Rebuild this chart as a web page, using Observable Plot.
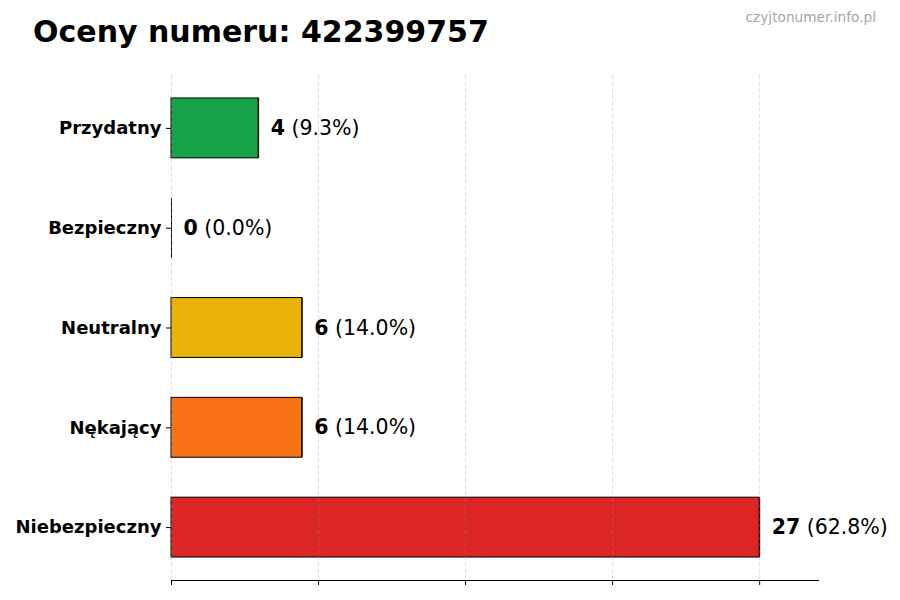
<!DOCTYPE html>
<html>
<head>
<meta charset="utf-8">
<script src="https://cdn.jsdelivr.net/npm/d3@7"></script>
<script src="https://cdn.jsdelivr.net/npm/@observablehq/plot@0.6"></script>
<style>
  html, body { margin: 0; padding: 0; background: white; }
  #chart { width: 900px; height: 600px; }
  text { white-space: pre; }
</style>
</head>
<body>
<div id="chart"></div>
<script>
const titleText = "Oceny numeru: 422399757";
const watermark = "czyjtonumer.info.pl";
const categories = ["Przydatny", "Bezpieczny", "Neutralny", "Nękający", "Niebezpieczny"];
const counts = [4, 0, 6, 6, 27];
const percents = ["9.3%", "0.0%", "14.0%", "14.0%", "62.8%"];
const colors = ["#16a34a", "#2563eb", "#eab308", "#f97316", "#dc2626"];
const xTicks = [0, 6.75, 13.5, 20.25, 27];
const xMax = 29.7;

const data = categories.map((c, i) => ({cat: c, count: counts[i], pct: percents[i], color: colors[i]}));

const chart = Plot.plot({
  width: 900,
  height: 600,
  marginTop: 75,
  marginBottom: 20,
  marginLeft: 171,
  marginRight: 82,
  style: {fontFamily: "DejaVu Sans", background: "white", color: "black"},
  x: {domain: [0, xMax], axis: null, label: null},
  y: {domain: categories, paddingInner: 0.4, paddingOuter: 0.23, round: false, axis: null, label: null},
  color: {type: "identity"},
  marks: [
    Plot.barX(data, {x: "count", y: "cat", fill: "color", stroke: "black", strokeWidth: 1}),
    Plot.tickX(data, {x: "count", y: "cat", stroke: "black", strokeWidth: 1}),
    Plot.gridX(xTicks, {stroke: "#999", strokeOpacity: 0.4, strokeDasharray: "4,2.5", strokeWidth: 0.9}),
    Plot.frame({anchor: "bottom", stroke: "black", strokeWidth: 1}),
    Plot.axisX({ticks: xTicks, tickFormat: () => "", tickSize: 5, stroke: "black", label: null}),
    Plot.axisY({tickSize: 5, tickPadding: 5, fontSize: 18, fontWeight: "bold", stroke: "black", fill: "black", label: null}),
    Plot.text(data, {x: "count", y: "cat", text: d => String(d.count), dx: 12, textAnchor: "start", fontSize: 20.5, fontWeight: "bold", fill: "black"})
  ]
});

document.getElementById("chart").appendChild(chart);

const groups = chart.querySelectorAll(":scope > g");
const labelGroup = groups[groups.length - 1];
d3.select(labelGroup).selectAll("text").each(function(_, i) {
  d3.select(this).append("tspan").attr("font-weight", "normal").text(" (" + data[i].pct + ")");
});

const svg = d3.select(chart);
svg.append("text")
  .attr("x", 33).attr("y", 42)
  .attr("text-anchor", "start")
  .attr("font-family", "DejaVu Sans")
  .attr("font-size", 30)
  .attr("font-weight", "bold")
  .attr("fill", "black")
  .text(titleText);

svg.append("text")
  .attr("x", 876).attr("y", 22)
  .attr("text-anchor", "end")
  .attr("font-family", "DejaVu Sans")
  .attr("font-size", 13.7)
  .attr("fill", "#a6a6a6")
  .text(watermark);
</script>
</body>
</html>
